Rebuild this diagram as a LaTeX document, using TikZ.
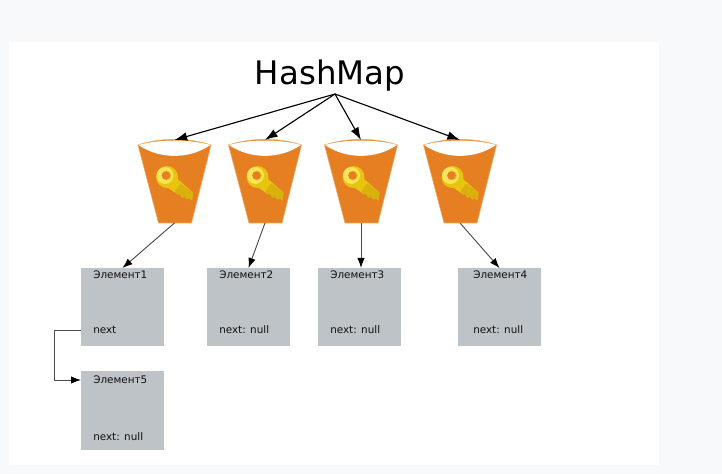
\documentclass[tikz,border=0pt]{standalone}
\usepackage{fontspec}
\setmainfont{DejaVu Sans}
\usetikzlibrary{arrows.meta}
\definecolor{pagebg}{HTML}{F8F9FB}
\definecolor{bucketfill}{HTML}{E67E22}
\definecolor{bucketedge}{HTML}{F5A860}
\definecolor{elemfill}{HTML}{BDC3C7}
\definecolor{keygold}{HTML}{E9C40F}
\definecolor{keydark}{HTML}{D9B00C}
\definecolor{keylight}{HTML}{F7E45A}
\definecolor{txt}{HTML}{111111}
\tikzset{
  x=0.75pt,y=-0.75pt,
  bucketbox/.style={minimum width=54pt,minimum height=62.25pt,inner sep=0pt,outer sep=0pt},
  elem/.style={fill=elemfill,minimum width=62.25pt,inner sep=0pt,outer sep=0pt},
  elemtext/.style={font=\fontsize{7.8pt}{9pt}\selectfont,text=txt,anchor=west,inner sep=0pt},
  bigarrow/.style={draw=black,line width=0.85pt,-{Latex[length=9.5pt,width=6.5pt]}},
  smallarrow/.style={draw=black!70,line width=0.7pt,-{Latex[black,length=7.5pt,width=5.5pt]}},
  pics/bucketicon/.style={code={
    \fill[bucketfill,draw=bucketedge,line width=0.4pt] (-36.5,-36.5) .. controls (-15,-44) and (15,-44) .. (36.5,-36.5) -- (17,41.5) -- (-16,41.5) -- cycle;
    \fill[white] (-36,-36.5) .. controls (-15,-42.5) and (15,-42.5) .. (36,-36.5) .. controls (15,-22) and (-15,-22) .. (-36,-36.5) -- cycle;
    % key: shaft with notched edge
    \fill[keygold] (-2,-7) -- (18.5,11) -- (17.5,19) -- (14,16.5) -- (12.5,18) -- (9.5,15) -- (7.5,16.5) -- (5,12.5) -- (3,13) -- (-11,3) -- cycle;
    \fill[keydark] (6,2) -- (18.5,11) -- (17.5,19) -- (14,16.5) -- (12.5,18) -- (9.5,15) -- (7.5,16.5) -- (5,12.5) -- (3,13) -- (0,10.5) -- cycle;
    % ring
    \fill[keygold] (-7.5,-4.5) circle[radius=11];
    \fill[keylight,even odd rule] (-9.5,-6) circle[radius=8.5] (-8,-6) circle[radius=5];
    \fill[bucketfill] (-8.5,-6) circle[radius=4.2];
  }}
}
\begin{document}
\begin{tikzpicture}
\useasboundingbox (0,0) rectangle (722,474);
\fill[pagebg] (0,0) rectangle (722,474);
\fill[white] (9,42) rectangle (659,465);

\node[font=\fontsize{24.3pt}{28pt}\selectfont,text=black,inner sep=0pt] (title) at (330,76) {HashMap};
\coordinate (hub) at (335,94);

\foreach \n/\cx in {b1/174.5,b2/265,b3/361,b4/460}{
  \node[bucketbox] (\n) at (\cx,181.5) {};
  \pic at (\cx,181.5) {bucketicon};
}

\node[elem,minimum height=58.5pt] (e1) at (122.5,307) {};
\node[elem,minimum height=58.5pt] (e2) at (248.5,307) {};
\node[elem,minimum height=58.5pt] (e3) at (359.5,307) {};
\node[elem,minimum height=58.5pt] (e4) at (499.5,307) {};
\node[elem,minimum height=59.25pt] (e5) at (122.5,410.5) {};

\node[elemtext] (t1) at (93,275) {Элемент1};
\node[elemtext] (n1) at (93,330) {next};
\node[elemtext] (t2) at (219,275) {Элемент2};
\node[elemtext] (n2) at (219,330) {next: null};
\node[elemtext] (t3) at (330,275) {Элемент3};
\node[elemtext] (n3) at (330,330) {next: null};
\node[elemtext] (t4) at (473,275) {Элемент4};
\node[elemtext] (n4) at (473,330) {next: null};
\node[elemtext] (t5) at (93,380) {Элемент5};
\node[elemtext] (n5) at (93,437) {next: null};

\draw[bigarrow] (hub) -- (b1.north);
\draw[bigarrow] (hub) -- (b2.north);
\draw[bigarrow] (hub) -- (b3.north);
\draw[bigarrow] (hub) -- (b4.north);

\draw[smallarrow] (b1.south) -- (e1.north);
\draw[smallarrow] (b2.south) -- (e2.north);
\draw[smallarrow] (b3.south) -- (b3.south |- e3.north);
\draw[smallarrow] (b4.south) -- (e4.north);
\draw[smallarrow] (e1.west |- n1) -- ++(-27,0) |- (e5.west |- t5);
\end{tikzpicture}
\end{document}
